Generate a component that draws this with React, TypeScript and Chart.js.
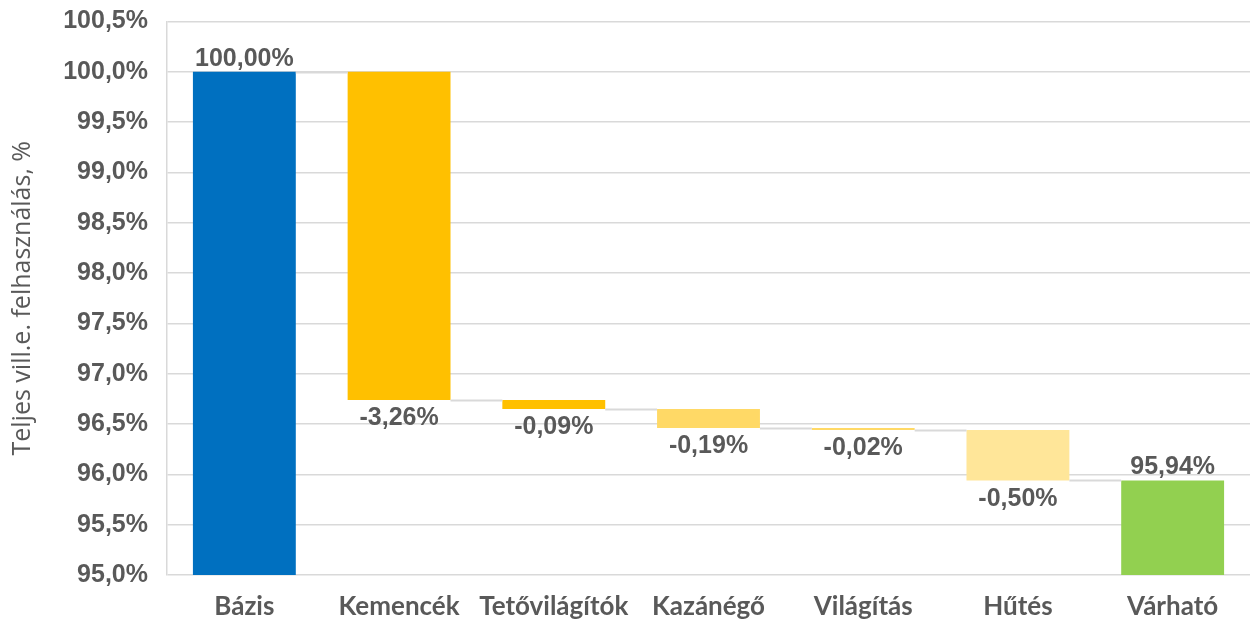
import React, { useEffect, useRef } from "react";
import { Chart, registerables } from "chart.js";

Chart.register(...registerables);

const categories = ["Bázis", "Kemencék", "Tetővilágítók", "Kazánégő", "Világítás", "Hűtés", "Várható"];
const values = [100, -3.26, -0.09, -0.19, -0.02, -0.5, 95.94];
const isTotal = [true, false, false, false, false, false, true];
const barColors = ["#0070C0", "#FFC000", "#FFC000", "#FFD966", "#FFD966", "#FFE699", "#92D050"];
const yMin = 95;
const yMax = 100.5;
const yStep = 0.5;
const yTitle = "Teljes vill.e. felhasználás, %";

const fmt = (v: number, d: number) => v.toFixed(d).replace(".", ",") + "%";

export default function App() {
  const ref = useRef<HTMLCanvasElement | null>(null);

  useEffect(() => {
    document.body.style.margin = "0";
    const ranges: [number, number][] = [];
    const ends: number[] = [];
    let running = 0;
    values.forEach((v, i) => {
      if (isTotal[i]) {
        ranges.push([yMin, v]);
        running = v;
      } else {
        const s = running;
        running = +(running + v).toFixed(4);
        ranges.push([s, running]);
      }
      ends.push(running);
    });

    const overlay = {
      id: "overlay",
      afterDatasetsDraw(chart: any) {
        const ctx = chart.ctx;
        const meta = chart.getDatasetMeta(0);
        const y = chart.scales.y;
        ctx.save();
        ctx.strokeStyle = "#d9d9d9";
        ctx.lineWidth = 2;
        for (let i = 0; i < meta.data.length - 1; i++) {
          const a = meta.data[i];
          const b = meta.data[i + 1];
          const py = Math.round(y.getPixelForValue(ends[i])) + 0.5;
          ctx.beginPath();
          ctx.moveTo(a.x + a.width / 2, py);
          ctx.lineTo(b.x - b.width / 2, py);
          ctx.stroke();
        }
        ctx.fillStyle = "#595959";
        ctx.font = "bold 25px 'Liberation Sans', Arial, sans-serif";
        ctx.textAlign = "center";
        meta.data.forEach((el: any, i: number) => {
          const top = Math.min(el.y, el.base);
          const bottom = Math.max(el.y, el.base);
          if (isTotal[i]) {
            ctx.textBaseline = "alphabetic";
            ctx.fillText(fmt(values[i], 2), el.x, top - 6);
          } else {
            ctx.textBaseline = "top";
            ctx.fillText(fmt(values[i], 2), el.x, bottom + 6);
          }
        });
        ctx.restore();
      },
    };

    const chart = new Chart(ref.current!, {
      type: "bar",
      data: {
        labels: categories,
        datasets: [
          {
            data: ranges as any,
            backgroundColor: barColors,
            borderWidth: 0,
            categoryPercentage: 1,
            barPercentage: 0.665,
          },
        ],
      },
      options: {
        animation: false,
        responsive: false,
        maintainAspectRatio: false,
        layout: { padding: { top: 19, right: 5, left: 0, bottom: 0 } },
        plugins: { legend: { display: false }, tooltip: { enabled: false } },
        scales: {
          x: {
            grid: { display: false },
            border: { display: false },
            ticks: {
              color: "#595959",
              font: { family: "Lato, 'Open Sans', sans-serif", size: 26, weight: "bold", lineHeight: 1 },
              padding: 11,
              maxRotation: 0,
            },
            afterFit: (s: any) => {
              s.height = 45;
            },
          },
          y: {
            min: yMin,
            max: yMax,
            border: { display: true, color: "#d9d9d9", width: 1.5 },
            grid: { color: "#d9d9d9", lineWidth: 1.5, drawTicks: false },
            ticks: {
              stepSize: yStep,
              color: "#595959",
              padding: 19,
              font: { family: "'Liberation Sans', Arial, sans-serif", size: 25, weight: "bold", lineHeight: 0.2 },
              callback: (v: any) => fmt(Number(v), 1),
            },
            title: {
              display: true,
              text: yTitle,
              color: "#595959",
              font: { family: "'Open Sans', 'Noto Sans', sans-serif", size: 25, lineHeight: 1 },
              padding: { top: 10, bottom: 0 },
            },
            afterFit: (s: any) => {
              s.width = 167;
            },
          },
        },
      },
      plugins: [overlay],
    });
    return () => chart.destroy();
  }, []);

  return (
    <div style={{ width: 1255, height: 620, background: "#fff" }}>
      <canvas ref={ref} width={1255} height={620} style={{ display: "block" }} />
    </div>
  );
}
